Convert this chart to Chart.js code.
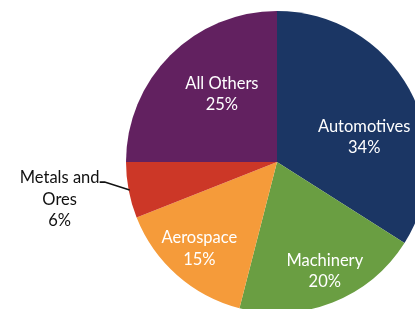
<!DOCTYPE html>
<html>
<head>
<meta charset="utf-8">
<script src="https://cdn.jsdelivr.net/npm/chart.js@4"></script>
<style>
  html, body { margin: 0; padding: 0; background: #fff; }
  #wrap { width: 415px; height: 309px; overflow: hidden; position: relative; }
  #pieChart { position: absolute; left: 0; top: 0; }
</style>
</head>
<body>
<div id="wrap"><canvas id="pieChart" width="440" height="330"></canvas></div>
<script>
const sectors = ["Automotives", "Machinery", "Aerospace", "Metals and Ores", "All Others"];
const shares = [34, 20, 15, 6, 25];
const colors = ["#1b3664", "#6a9e42", "#f59b3a", "#cc3727", "#622160"];

// label lines shown on the chart (name may wrap)
const labelLines = [
  ["Automotives"],
  ["Machinery"],
  ["Aerospace"],
  ["Metals and", "Ores"],
  ["All Others"]
];

// where each label sits: fraction of radius, angle shift (deg) from slice middle
const placement = [
  [0.60, 13],
  [0.79, -2],
  [0.77, 0.5],
  null,
  [0.58, 6]
];

const FONT = "16.5px Lato, 'Liberation Sans', sans-serif";
const LINE_H = 21.5;

const sliceLabels = {
  id: "sliceLabels",
  afterDatasetsDraw(chart) {
    const ctx = chart.ctx;
    const arcs = chart.getDatasetMeta(0).data;
    ctx.save();
    ctx.font = FONT;
    ctx.textAlign = "center";
    ctx.textBaseline = "middle";
    arcs.forEach((arc, i) => {
      const lines = labelLines[i].concat([shares[i] + "%"]);
      const mid = (arc.startAngle + arc.endAngle) / 2;
      if (placement[i]) {
        const [f, shift] = placement[i];
        const a = mid + shift * Math.PI / 180;
        const x = arc.x + Math.cos(a) * arc.outerRadius * f;
        const y = arc.y + Math.sin(a) * arc.outerRadius * f;
        ctx.fillStyle = "#ffffff";
        lines.forEach((t, k) => {
          ctx.fillText(t, x, y + (k - (lines.length - 1) / 2) * LINE_H);
        });
      } else {
        // outside label with leader line
        const ex = arc.x + Math.cos(mid) * (arc.outerRadius - 1);
        const ey = arc.y + Math.sin(mid) * (arc.outerRadius - 1);
        const bx = ex - 25, by = ey - 8;
        ctx.strokeStyle = "#111";
        ctx.lineWidth = 1.6;
        ctx.beginPath();
        ctx.moveTo(ex, ey);
        ctx.lineTo(bx, by);
        ctx.lineTo(bx - 5, by);
        ctx.stroke();
        ctx.fillStyle = "#111111";
        const cx = bx - 45;
        lines.forEach((t, k) => {
          ctx.fillText(t, cx, by - 4 + k * LINE_H);
        });
      }
    });
    ctx.restore();
  }
};

new Chart(document.getElementById("pieChart"), {
  type: "pie",
  data: {
    labels: sectors,
    datasets: [{
      data: shares,
      backgroundColor: colors,
      borderWidth: 0
    }]
  },
  options: {
    responsive: false,
    animation: false,
    layout: { padding: { left: 126, right: 12, top: 11, bottom: 17 } },
    plugins: {
      legend: { display: false },
      tooltip: { enabled: false }
    }
  },
  plugins: [sliceLabels]
});
</script>
</body>
</html>
